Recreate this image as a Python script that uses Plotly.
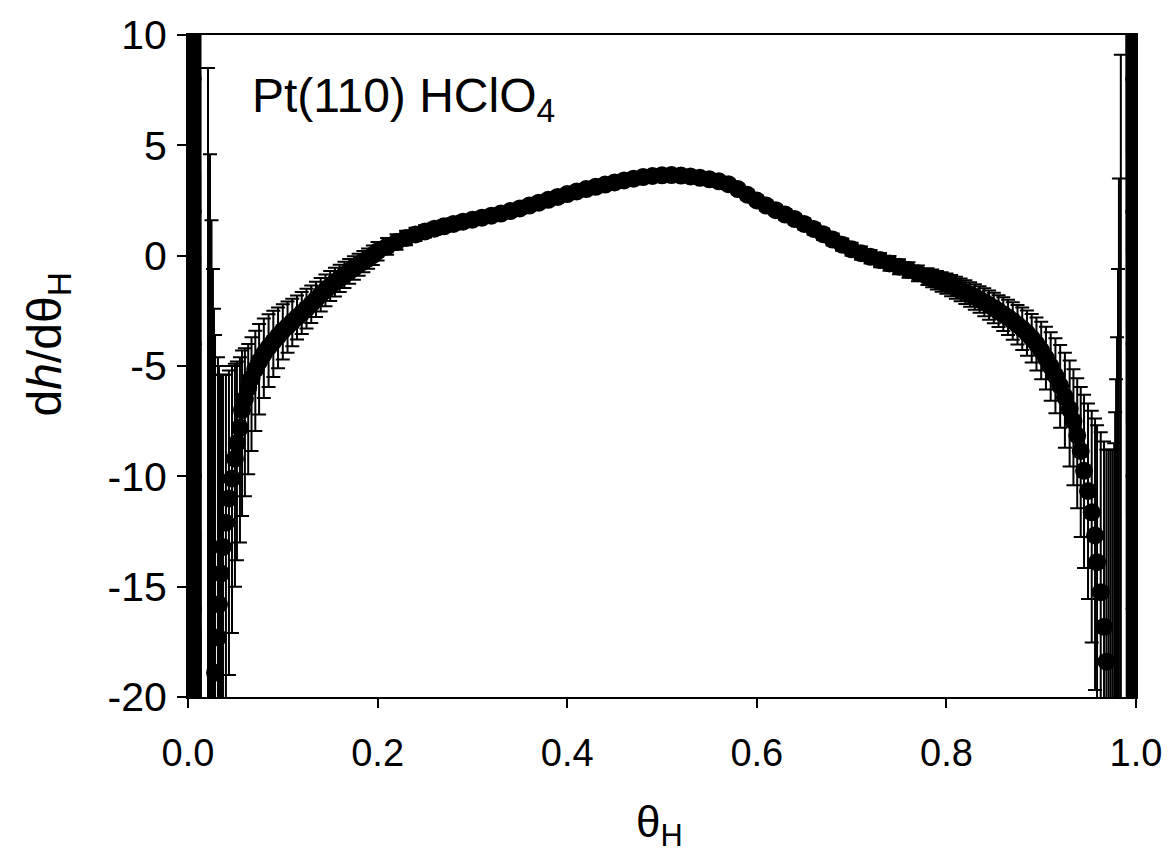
import plotly.graph_objects as go

# ---- main data: theta_H, dh/dtheta_H, upper error, lower error ----
theta = [
    0.0211, 0.0232, 0.0248, 0.0263, 0.0274, 0.0285, 0.0316, 0.0327, 0.0348, 0.0369,
    0.0400, 0.0432, 0.0464, 0.0495, 0.0516, 0.0548, 0.0570, 0.0600, 0.0635, 0.0670,
    0.0710, 0.0750, 0.0800, 0.0850, 0.0900, 0.0950, 0.1000, 0.1050, 0.1100, 0.1150,
    0.1200, 0.1250, 0.1300, 0.1350, 0.1400, 0.1450, 0.1500, 0.1550, 0.1600, 0.1650,
    0.1700, 0.1750, 0.1800, 0.1850, 0.1900, 0.1950, 0.2000, 0.2100, 0.2200, 0.2300,
    0.2400, 0.2500, 0.2600, 0.2700, 0.2800, 0.2900, 0.3000, 0.3100, 0.3200, 0.3300,
    0.3400, 0.3500, 0.3600, 0.3700, 0.3800, 0.3900, 0.4000, 0.4100, 0.4200, 0.4300,
    0.4400, 0.4500, 0.4600, 0.4700, 0.4800, 0.4900, 0.5000, 0.5100, 0.5200, 0.5300,
    0.5400, 0.5500, 0.5600, 0.5700, 0.5800, 0.5900, 0.6000, 0.6100, 0.6200, 0.6300,
    0.6400, 0.6500, 0.6600, 0.6700, 0.6800, 0.6900, 0.7000, 0.7100, 0.7200, 0.7300,
    0.7400, 0.7500, 0.7600, 0.7700, 0.7800, 0.7850, 0.7900, 0.7950, 0.8000, 0.8050,
    0.8100, 0.8150, 0.8200, 0.8250, 0.8300, 0.8350, 0.8400, 0.8450, 0.8500, 0.8550,
    0.8600, 0.8650, 0.8700, 0.8750, 0.8800, 0.8850, 0.8900, 0.8950, 0.9000, 0.9050,
    0.9100, 0.9150, 0.9200, 0.9250, 0.9300, 0.9340, 0.9380, 0.9417, 0.9452, 0.9494,
    0.9533, 0.9568, 0.9589, 0.9628, 0.9663, 0.9688, 0.9710, 0.9730, 0.9750, 0.9770,
    0.9780, 0.9790, 0.9800, 0.9810, 0.9820, 0.9840,
]
dh = [
    -32.0, -30.0, -28.0, -26.0, -24.0, -18.9, -17.3, -15.8, -14.4, -13.2,
    -12.1, -11.0, -10.1, -9.2, -8.5, -7.8, -7.0, -6.5, -6.0, -5.55,
    -5.15, -4.8, -4.45, -4.15, -3.9, -3.65, -3.4, -3.2, -3.0, -2.8,
    -2.6, -2.4, -2.2, -1.98, -1.77, -1.57, -1.38, -1.2, -1.03, -0.87,
    -0.71, -0.56, -0.41, -0.27, -0.13, 0.02, 0.2, 0.42, 0.62, 0.8,
    0.96, 1.1, 1.22, 1.33, 1.44, 1.54, 1.63, 1.72, 1.81, 1.91,
    2.02, 2.14, 2.27, 2.4, 2.53, 2.66, 2.79, 2.91, 3.02, 3.12,
    3.22, 3.32, 3.41, 3.49, 3.56, 3.61, 3.64, 3.65, 3.63, 3.59,
    3.53, 3.46, 3.37, 3.24, 3.02, 2.76, 2.5, 2.27, 2.06, 1.86,
    1.66, 1.44, 1.21, 0.97, 0.73, 0.5, 0.29, 0.11, -0.05, -0.2,
    -0.35, -0.5, -0.65, -0.8, -0.95, -1.03, -1.11, -1.19, -1.27, -1.36,
    -1.45, -1.55, -1.65, -1.76, -1.87, -1.99, -2.11, -2.24, -2.37, -2.51,
    -2.65, -2.8, -2.96, -3.13, -3.31, -3.51, -3.74, -4.0, -4.3, -4.64,
    -5.02, -5.44, -5.9, -6.4, -6.95, -7.5, -8.15, -8.85, -9.75, -10.66,
    -11.63, -12.68, -13.89, -15.25, -16.82, -18.4, -21.5, -23.0, -25.0, -27.0,
    -29.0, -31.0, -33.0, -35.0, -37.0, -40.0,
]
err_up = [
    40.5, 34.6, 29.6, 25.4, 21.6, 15.3, 12.7, 10.8, 9.0, 7.8,
    6.7, 5.8, 5.1, 4.3, 3.7, 3.2, 2.7, 2.3, 2.0, 1.85,
    1.75, 1.7, 1.6, 1.5, 1.4, 1.3, 1.2, 1.12, 1.05, 1.0,
    0.95, 0.9, 0.85, 0.8, 0.76, 0.72, 0.68, 0.65, 0.62, 0.59,
    0.56, 0.53, 0.5, 0.48, 0.46, 0.44, 0.42, 0.38, 0.35, 0.33,
    0.3, 0.28, 0.27, 0.26, 0.25, 0.25, 0.24, 0.24, 0.23, 0.23,
    0.22, 0.22, 0.22, 0.21, 0.21, 0.21, 0.2, 0.2, 0.2, 0.2,
    0.2, 0.2, 0.2, 0.2, 0.2, 0.2, 0.2, 0.2, 0.2, 0.2,
    0.2, 0.2, 0.2, 0.2, 0.2, 0.21, 0.21, 0.22, 0.22, 0.23,
    0.23, 0.24, 0.25, 0.26, 0.27, 0.28, 0.29, 0.3, 0.31, 0.32,
    0.33, 0.34, 0.35, 0.36, 0.38, 0.4, 0.42, 0.44, 0.46, 0.48,
    0.5, 0.52, 0.54, 0.56, 0.58, 0.6, 0.63, 0.66, 0.69, 0.72,
    0.76, 0.8, 0.85, 0.9, 0.96, 1.02, 1.1, 1.2, 1.3, 1.42,
    1.55, 1.7, 1.85, 2.0, 2.2, 2.35, 2.6, 2.9, 3.45, 3.96,
    4.6, 5.3, 6.2, 7.25, 8.4, 9.6, 12.7, 14.2, 16.2, 18.5,
    21.9, 25.4, 29.3, 34.4, 40.5, 49.1,
]
err_down = [
    10.0, 10.0, 10.0, 10.0, 10.0, 12.0, 11.0, 10.0, 9.5, 9.0,
    8.5, 8.0, 7.0, 5.8, 5.3, 5.2, 4.8, 4.4, 3.9, 3.3,
    2.8, 2.4, 2.0, 1.8, 1.6, 1.45, 1.3, 1.2, 1.1, 1.0,
    0.95, 0.9, 0.85, 0.8, 0.76, 0.72, 0.68, 0.65, 0.62, 0.59,
    0.56, 0.53, 0.5, 0.48, 0.46, 0.44, 0.42, 0.38, 0.35, 0.33,
    0.3, 0.28, 0.27, 0.26, 0.25, 0.25, 0.24, 0.24, 0.23, 0.23,
    0.22, 0.22, 0.22, 0.21, 0.21, 0.21, 0.2, 0.2, 0.2, 0.2,
    0.2, 0.2, 0.2, 0.2, 0.2, 0.2, 0.2, 0.2, 0.2, 0.2,
    0.2, 0.2, 0.2, 0.2, 0.2, 0.21, 0.21, 0.22, 0.22, 0.23,
    0.23, 0.24, 0.25, 0.26, 0.27, 0.28, 0.29, 0.3, 0.31, 0.32,
    0.33, 0.34, 0.35, 0.36, 0.38, 0.4, 0.42, 0.44, 0.46, 0.48,
    0.5, 0.52, 0.54, 0.56, 0.58, 0.6, 0.63, 0.66, 0.69, 0.72,
    0.76, 0.8, 0.85, 0.9, 0.96, 1.02, 1.1, 1.2, 1.3, 1.42,
    1.55, 1.7, 1.9, 2.3, 2.6, 2.9, 3.3, 3.9, 4.4, 4.9,
    5.9, 7.0, 7.5, 8.5, 9.5, 10.5, 11.0, 11.0, 11.0, 11.0,
    11.0, 11.0, 11.0, 11.0, 11.0, 11.0,
]

# ---- the near-vertical runs of points at the two edges ----
edge_left_theta = [0.0068, 0.0069, 0.0070, 0.0071, 0.0072, 0.0073, 0.0074]
edge_left_dh = [14.0, 8.0, 2.0, -4.0, -10.0, -16.0, -24.0]
edge_right_theta = [0.9966, 0.9965, 0.9964, 0.9963, 0.9962, 0.9961, 0.9960]
edge_right_dh = [-24.0, -16.0, -10.0, -4.0, 2.0, 8.0, 14.0]

# ---- tick labels ----
x_tickvals = [0.0, 0.2, 0.4, 0.6, 0.8, 1.0]
x_ticktext = ["0.0", "0.2", "0.4", "0.6", "0.8", "1.0"]
y_tickvals = [-20, -15, -10, -5, 0, 5, 10]
y_ticktext = ["-20", "-15", "-10", "-5", "0", "5", "10"]

FONT = "Liberation Sans, Arial, sans-serif"

fig = go.Figure()

fig.add_trace(go.Scatter(
    x=theta, y=dh, mode="markers",
    marker=dict(symbol="circle", size=18, color="black"),
    error_y=dict(type="data", symmetric=False, array=err_up, arrayminus=err_down,
                 color="black", thickness=2, width=7),
    showlegend=False,
))
for ex, ey in ((edge_left_theta, edge_left_dh), (edge_right_theta, edge_right_dh)):
    fig.add_trace(go.Scatter(
        x=ex, y=ey, mode="lines+markers",
        line=dict(color="black", width=14),
        marker=dict(symbol="circle", size=14, color="black"),
        showlegend=False,
    ))

fig.update_layout(
    width=1174, height=867,
    margin=dict(l=188, r=37, t=32, b=170),
    paper_bgcolor="white", plot_bgcolor="white",
    font=dict(family=FONT, color="black", size=38),
    xaxis=dict(range=[0, 1], tickmode="array", tickvals=x_tickvals, ticktext=x_ticktext,
               showgrid=False, zeroline=False, showline=True, linecolor="black",
               linewidth=2, mirror=True, ticks="outside", ticklen=9, tickwidth=1.5,
               tickcolor="black", ticklabelstandoff=12,
               tickfont=dict(size=38, family=FONT, color="black")),
    yaxis=dict(range=[-20, 10], tickmode="array", tickvals=y_tickvals, ticktext=y_ticktext,
               showgrid=False, zeroline=False, showline=True, linecolor="black",
               linewidth=2, mirror=True, ticks="outside", ticklen=9, tickwidth=1.5,
               tickcolor="black", ticklabelstandoff=2,
               tickfont=dict(size=41, family=FONT, color="black")),
    annotations=[
        dict(text="Pt(110) HClO<sub>4</sub>", xref="x", yref="y", x=0.065, y=7.1,
             xanchor="left", yanchor="middle", showarrow=False,
             font=dict(size=48, family=FONT, color="black")),
        dict(text="d<i>h</i>/dθ<sub>H</sub>", xref="paper", yref="paper",
             x=-0.148, y=0.532, textangle=-90, xanchor="center", yanchor="middle",
             showarrow=False, font=dict(size=48, family=FONT, color="black")),
        dict(text="θ<sub>H</sub>", xref="paper", yref="paper", x=0.497, y=-0.194,
             xanchor="center", yanchor="middle", showarrow=False,
             font=dict(size=44, family=FONT, color="black")),
    ],
)

fig.write_html("out.html")
